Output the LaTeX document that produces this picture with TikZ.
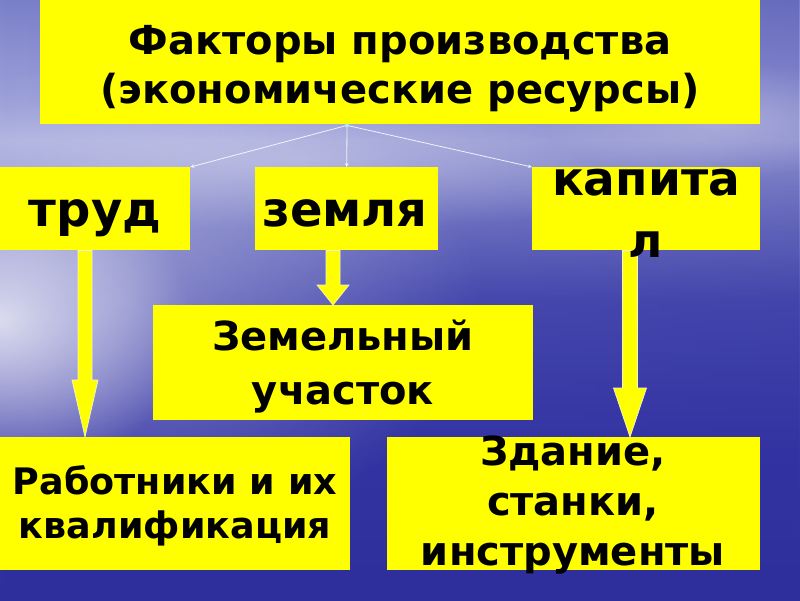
\documentclass[tikz,border=0pt]{standalone}
\usepackage{fontspec}
\newfontfamily\tah{DejaVu Sans}
\usetikzlibrary{calc,fadings,arrows.meta}
\definecolor{bgA}{HTML}{2E2E9C}
\definecolor{bgB}{HTML}{3434A4}
\definecolor{bgC}{HTML}{4A4CB0}
\definecolor{bgD}{HTML}{7478C4}
\definecolor{bgE}{HTML}{A4A8DC}
\definecolor{bgF}{HTML}{9094D4}
\definecolor{bgG}{HTML}{7A80C8}
\definecolor{boxyellow}{HTML}{FFFF00}
\definecolor{arrowedge}{HTML}{F4F4C8}
% stops: 25bp = bottom (y=600), 75bp = top (y=0)
\pgfdeclareverticalshading{skysea}{100bp}{color(0bp)=(bgA); color(25bp)=(bgA); color(37.5bp)=(bgB); color(50bp)=(bgC); color(56.7bp)=(bgD); color(63.3bp)=(bgE); color(70bp)=(bgF); color(75bp)=(bgG); color(100bp)=(bgG)}
\tikzfading[name=darkright, left color=transparent!100, right color=transparent!0]
\tikzfading[name=glow, inner color=transparent!0, outer color=transparent!100]
\tikzset{
  box/.style={fill=boxyellow, inner sep=0pt, anchor=north west},
  txt/.style={text=black, align=center, anchor=base, inner sep=0pt},
  barrow/.style={fill=boxyellow, draw=arrowedge, line width=0.7pt},
  thinarrow/.style={draw=white, opacity=0.85, line width=0.8pt, -{Stealth[length=4pt,width=3.5pt]}}
}
\newcommand\tf[2]{\tah\bfseries\fontsize{#1}{#2}\selectfont}
\newcommand\blockarrow[5]{%
  \draw[barrow] let \p1=(#1), \p2=(#2) in
    (\x2-#3,\y1) -- (\x2-#3,\y2+#5) -- (\x2-#4,\y2+#5) -- (\x2,\y2)
    -- (\x2+#4,\y2+#5) -- (\x2+#3,\y2+#5) -- (\x2+#3,\y1) -- cycle;}
\begin{document}
\begin{tikzpicture}[x=1pt,y=-1pt]
\useasboundingbox (0,0) rectangle (800,600);
% background
\shade[shading=skysea] (0,0) rectangle (800,600);
\fill[bgA, path fading=darkright, opacity=0.25] (0,0) rectangle (800,600);
\fill[white, path fading=glow, opacity=0.35] (120,300) ellipse (360 and 240);
\fill[white, path fading=glow, opacity=0.75] (0,320) ellipse (190 and 160);
\fill[white, path fading=glow, opacity=0.3] (300,160) ellipse (450 and 70);
\fill[white, path fading=glow, opacity=0.3] (720,120) ellipse (180 and 60);
% boxes
\node[box, minimum width=720pt, minimum height=124pt] (top) at (40,0) {};
\node[box, minimum width=190pt, minimum height=83pt] (trud) at (0,167) {};
\node[box, minimum width=183pt, minimum height=83pt] (zem) at (255,167) {};
\node[box, minimum width=228pt, minimum height=83pt] (kap) at (532,167) {};
\node[box, minimum width=380pt, minimum height=115pt] (uch) at (153,305) {};
\node[box, minimum width=350pt, minimum height=133pt] (rab) at (0,437) {};
\node[box, minimum width=373pt, minimum height=133pt] (zd) at (387,437) {};
% thin connectors
\coordinate (src) at ($(top.south west)+(307,1)$);
\draw[thinarrow] (src) -- (trud.north east);
\draw[thinarrow] (src) -- (zem.north);
\draw[thinarrow] (src) -- (kap.north west);
\fill[cyan!30!white] (src) circle (2pt);
% block arrows
\blockarrow{$(trud.south west)+(85,0)$}{$(rab.north west)+(85,0)$}{7pt}{13pt}{57pt}
\blockarrow{$(zem.south west)+(78,0)$}{$(uch.north west)+(180,0)$}{7pt}{16pt}{20pt}
\blockarrow{$(kap.south west)+(98,0)$}{$(zd.north west)+(243,0)$}{7.5pt}{16.5pt}{49pt}
% texts (anchor = baseline of the last line)
\node[txt, font=\tf{40}{49}] (ttop) at (400,103) {Факторы производства\\(экономические ресурсы)};
\node[txt, font=\tf{48}{56}] (ttrud) at (95,226) {труд};
\node[txt, font=\tf{48}{56}] (tzem) at (345,226) {земля};
\node[txt, font=\tf{47}{62}] (tkap) at (646,257) {капита\\л};
\node[txt, font=\tf{40}{54}] (tuch) at (343,404) {Земельный\\участок};
\node[txt, font=\tf{36.5}{44}] (trab) at (175,538) {Работники и их\\квалификация};
\node[txt, font=\tf{40}{50}] (tzd) at (573,565) {Здание,\\станки,\\инструменты};
\end{tikzpicture}
\end{document}
